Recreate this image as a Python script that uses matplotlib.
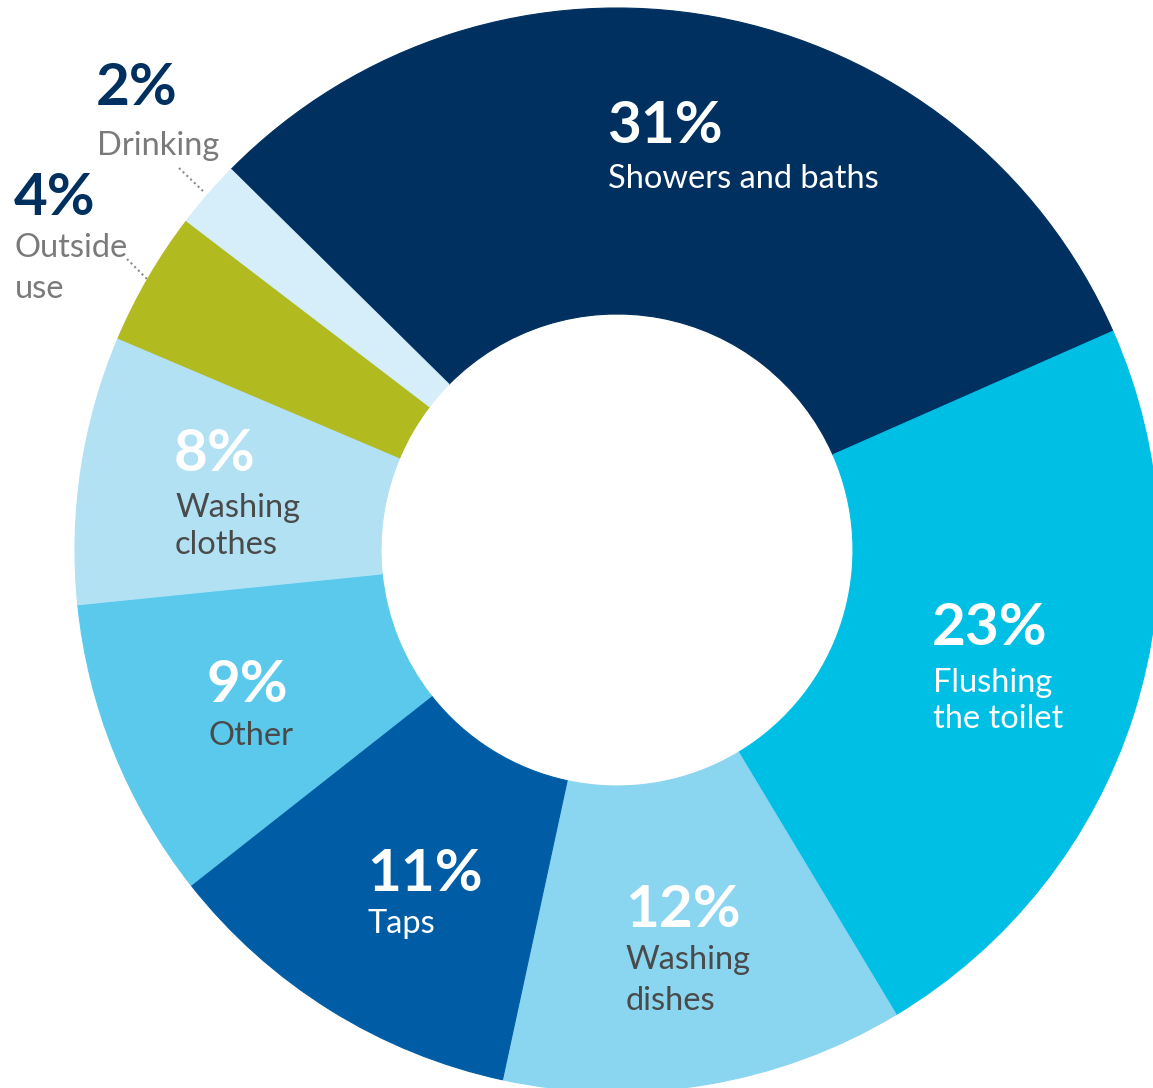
import matplotlib
matplotlib.use("Agg")
import matplotlib.pyplot as plt

categories = ["Showers and baths", "Flushing the toilet", "Washing dishes", "Taps",
              "Other", "Washing clothes", "Outside use", "Drinking"]
shares = [31, 23, 12, 11, 9, 8, 4, 2]
label_lines = [["Showers and baths"], ["Flushing", "the toilet"], ["Washing", "dishes"],
               ["Taps"], ["Other"], ["Washing", "clothes"], ["Outside", "use"], ["Drinking"]]

colors = ["#00305F", "#00BFE5", "#8AD5F0", "#005DA5", "#5BC9EC", "#B2E1F4", "#B1BA1F", "#D5EEF9"]

W, H = 1153, 1088
plt.rcParams["font.family"] = ["Lato", "DejaVu Sans"]

fig = plt.figure(figsize=(W / 100, H / 100), dpi=100)
ax = fig.add_axes([0, 0, 1, 1])

R_OUT, R_IN = 542, 236
cx, cy = 617, H - 550
wedges, _ = ax.pie(shares, colors=colors, startangle=135.4, counterclock=False,
                   radius=R_OUT, center=(cx, cy),
                   wedgeprops=dict(width=R_OUT - R_IN, linewidth=0.8))
for w, c in zip(wedges, colors):
    w.set_edgecolor(c)

ax.set_xlim(0, W)
ax.set_ylim(0, H)
ax.set_aspect("equal")
ax.axis("off")

# label layout: x, baseline of the percent, baselines of the name lines (pixels from top)
layout = [
    (607, 143, [188], "white", "white"),
    (932, 645, [692, 728], "white", "white"),
    (625, 927, [969, 1010], "white", "#4A4A4A"),
    (367, 891, [933], "white", "white"),
    (207, 702, [745], "white", "#4A4A4A"),
    (174, 471, [517, 554], "white", "#4A4A4A"),
    (14, 215, [257, 298], "#00305F", "#7A7A7A"),
    (96, 105, [155], "#00305F", "#7A7A7A"),
]

for share, lines, (x, yp, ys, pc, nc) in zip(shares, label_lines, layout):
    ax.text(x, H - yp, f"{share}%", fontsize=42, fontweight="bold", color=pc,
            ha="left", va="baseline")
    for line, yl in zip(lines, ys):
        ax.text(x + 1, H - yl, line, fontsize=23.5, color=nc, ha="left", va="baseline")

# dotted leaders for the two small outside labels
ax.plot([179, 205], [H - 168, H - 193], color="#8A8A8A", lw=1.5, ls=(0, (1, 1.5)))
ax.plot([127, 148], [H - 259, H - 280], color="#8A8A8A", lw=1.5, ls=(0, (1, 1.5)))

fig.savefig("out.png", dpi=100)
